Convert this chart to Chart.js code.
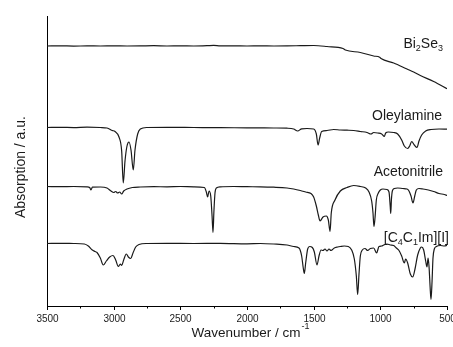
<!DOCTYPE html>
<html>
<head>
<meta charset="utf-8">
<script src="https://cdn.jsdelivr.net/npm/chart.js@4.4.1/dist/chart.umd.min.js"></script>
<style>
  html, body { margin: 0; padding: 0; background: #fff; }
  #wrap { width: 453px; height: 347px; }
</style>
</head>
<body>
<div id="wrap"><canvas id="ir" width="453" height="347"></canvas></div>
<script>
// axis ticks (wavenumber, cm-1)
const xTickLabels = [3500, 3000, 2500, 2000, 1500, 1000, 500];
// "_" marks the next character as a subscript
const seriesNames = ["Bi_2Se_3", "Oleylamine", "Acetonitrile", "[C_4C_1Im][I]"];

// Bi2Se3
const biWn  = [3500, 3400, 3300, 3200, 3100, 3000, 2900, 2800, 2700, 2600, 2500, 2400, 2300, 2250, 2200, 2100, 2000, 1900, 1800, 1700, 1600, 1500, 1400, 1280, 1262, 1150, 1050, 1005, 995, 900, 800, 750, 700, 600, 500];
const biAbs = [26.0, 26.02, 25.99, 26.01, 26.0, 26.02, 26.0, 26.01, 26.03, 26.0, 26.02, 26.0, 26.03, 26.06, 26.01, 26.02, 26.0, 26.02, 26.0, 26.01, 26.03, 26.05, 25.95, 25.75, 25.6, 25.35, 25.0, 24.88, 24.75, 24.3, 23.7, 23.4, 23.05, 22.45, 21.72];

// Oleylamine
const oleWn  = [3500, 3400, 3300, 3200, 3100, 3050, 3010, 2990, 2960, 2940, 2928, 2915, 2900, 2885, 2870, 2853, 2840, 2820, 2800, 2750, 2600, 2400, 2200, 2000, 1800, 1700, 1650, 1620, 1590, 1550, 1500, 1480, 1467, 1455, 1440, 1400, 1350, 1300, 1250, 1200, 1150, 1100, 1070, 1050, 1020, 990, 970, 960, 940, 900, 870, 840, 820, 795, 780, 765, 745, 725, 710, 690, 660, 620, 560, 500];
const oleAbs = [17.85, 17.87, 17.84, 17.88, 17.85, 17.8, 17.55, 17.45, 16.9, 15.5, 12.3, 14.5, 16.0, 16.4, 15.6, 13.6, 15.6, 17.2, 17.7, 17.85, 17.87, 17.85, 17.83, 17.82, 17.8, 17.78, 17.7, 17.5, 17.72, 17.75, 17.7, 17.2, 16.1, 16.8, 17.45, 17.55, 17.65, 17.6, 17.58, 17.55, 17.45, 17.35, 17.2, 17.35, 17.3, 17.2, 16.95, 17.3, 17.4, 17.35, 17.2, 16.6, 16.0, 15.75, 16.0, 16.45, 16.1, 15.85, 16.5, 17.1, 17.5, 17.65, 17.7, 17.68];

// Acetonitrile
const acnWn  = [3500, 3400, 3300, 3200, 3180, 3170, 3160, 3100, 3050, 3020, 3000, 2985, 2970, 2955, 2940, 2925, 2900, 2860, 2800, 2700, 2600, 2500, 2400, 2320, 2305, 2295, 2285, 2272, 2262, 2255, 2248, 2240, 2230, 2200, 2100, 2000, 1900, 1800, 1700, 1650, 1600, 1560, 1520, 1500, 1480, 1465, 1452, 1430, 1405, 1390, 1377, 1368, 1340, 1300, 1250, 1200, 1150, 1110, 1085, 1065, 1055, 1048, 1040, 1030, 1015, 1000, 980, 950, 935, 926, 922, 917, 910, 895, 870, 830, 800, 785, 770, 755, 742, 730, 710, 680, 640, 600, 560, 520, 500];
const acnAbs = [11.95, 11.93, 11.95, 11.92, 11.85, 11.6, 11.88, 11.9, 11.8, 11.5, 11.35, 11.45, 11.3, 11.4, 11.2, 11.5, 11.7, 11.85, 11.9, 11.93, 11.92, 11.95, 11.92, 11.85, 11.4, 10.9, 11.5, 11.0, 9.0, 7.35, 9.5, 11.3, 11.8, 11.92, 11.95, 11.93, 11.92, 11.88, 11.8, 11.7, 11.55, 11.4, 11.25, 10.9, 10.0, 9.1, 8.5, 8.9, 9.0, 8.6, 7.45, 9.3, 10.6, 11.5, 11.85, 12.05, 11.95, 11.8, 11.4, 10.5, 9.3, 7.95, 8.8, 10.6, 11.3, 11.6, 11.7, 11.65, 11.4, 10.0, 9.25, 10.6, 11.5, 11.75, 11.8, 11.75, 11.7, 11.5, 11.0, 10.3, 11.0, 11.6, 11.75, 11.7, 11.6, 11.45, 11.25, 11.15, 11.05];

// [C4C1Im][I]
const ilWn  = [3500, 3400, 3300, 3220, 3190, 3160, 3140, 3125, 3100, 3078, 3055, 3030, 3005, 2985, 2965, 2950, 2940, 2925, 2905, 2890, 2872, 2855, 2835, 2810, 2750, 2600, 2400, 2200, 2000, 1900, 1800, 1700, 1650, 1610, 1590, 1578, 1570, 1560, 1545, 1530, 1510, 1495, 1475, 1460, 1445, 1430, 1415, 1400, 1385, 1370, 1345, 1320, 1300, 1270, 1240, 1215, 1195, 1180, 1170, 1160, 1150, 1135, 1115, 1095, 1075, 1050, 1028, 1010, 990, 975, 950, 925, 900, 880, 860, 840, 820, 810, 795, 775, 757, 740, 720, 700, 690, 675, 660, 650, 642, 635, 625, 620, 612, 605, 595, 580, 550, 520, 500];
const ilAbs = [6.25, 6.27, 6.25, 6.2, 6.0, 5.6, 5.45, 5.35, 4.8, 4.1, 4.5, 4.9, 5.05, 4.6, 3.95, 4.2, 4.05, 4.6, 5.2, 4.9, 4.75, 5.3, 5.9, 6.15, 6.25, 6.27, 6.25, 6.27, 6.22, 6.25, 6.2, 6.1, 5.95, 5.8, 5.0, 3.8, 3.25, 4.3, 5.7, 5.95, 5.85, 5.4, 4.1, 5.0, 5.6, 5.55, 5.7, 5.5, 5.7, 5.55, 5.8, 5.9, 5.95, 6.0, 5.95, 5.6, 4.7, 3.0, 1.15, 3.2, 5.0, 5.6, 5.75, 5.55, 5.75, 5.8, 5.3, 5.95, 6.0, 6.1, 6.2, 6.1, 6.05, 5.8, 5.55, 5.0, 4.3, 4.7, 4.3, 3.2, 2.9, 3.7, 5.1, 5.8, 5.9, 5.6, 4.5, 3.9, 4.8, 4.0, 1.5, 0.65, 2.5, 4.8, 5.7, 5.95, 6.05, 6.0, 6.05];

const toPoints = (wn, ab) => wn.map((w, i) => ({ x: w, y: ab[i] }));

const FONT = "'Liberation Sans', Arial, sans-serif";
const INK = '#1a1a1a';

// where each series name sits (right edge wavenumber, a.u.)
const labelSpots = [[530, 26.3], [537, 19.1], [530, 13.5], [485, 6.9]];

function drawRich(ctx, text, right, midY) {
    const parts = [];
    for (let i = 0; i < text.length; i++) {
        if (text[i] === '_') { parts.push({ t: text[i + 1], sub: true }); i++; }
        else if (parts.length && !parts[parts.length - 1].sub) parts[parts.length - 1].t += text[i];
        else parts.push({ t: text[i], sub: false });
    }
    let w = 0;
    parts.forEach(p => { ctx.font = (p.sub ? '9px ' : '14px ') + FONT; p.w = ctx.measureText(p.t).width; w += p.w; });
    let x = right - w;
    ctx.textAlign = 'left';
    ctx.textBaseline = 'alphabetic';
    parts.forEach(p => {
        ctx.font = (p.sub ? '9px ' : '14px ') + FONT;
        ctx.fillText(p.t, x, midY + 5 + (p.sub ? 3 : 0));
        x += p.w;
    });
}

const annotate = {
    id: 'annotate',
    afterDraw(chart) {
        const { ctx, chartArea: a, scales: { x, y } } = chart;
        ctx.save();
        ctx.strokeStyle = '#000';
        ctx.fillStyle = INK;
        ctx.lineWidth = 1;

        // tick marks + labels
        ctx.font = '10px ' + FONT;
        ctx.textAlign = 'center';
        ctx.textBaseline = 'alphabetic';
        xTickLabels.forEach((t, i) => {
            const px = Math.round(x.getPixelForValue(t)) + 0.5;
            ctx.beginPath(); ctx.moveTo(px, a.bottom); ctx.lineTo(px, a.bottom + 4); ctx.stroke();
            if (i < xTickLabels.length - 1) {
                const mx = Math.round(x.getPixelForValue((t + xTickLabels[i + 1]) / 2)) + 0.5;
                ctx.beginPath(); ctx.moveTo(mx, a.bottom); ctx.lineTo(mx, a.bottom + 2.5); ctx.stroke();
            }
            ctx.fillText(String(t), px, 322);
        });

        // x title with superscript
        ctx.font = '13.5px ' + FONT;
        const main = 'Wavenumber / cm';
        ctx.font = '9px ' + FONT;
        const supW = ctx.measureText('-1').width;
        ctx.font = '13.5px ' + FONT;
        const mainW = ctx.measureText(main).width;
        const sx = (a.left + a.right) / 2 + 3 - (mainW + supW) / 2;
        ctx.textAlign = 'left';
        ctx.fillText(main, sx, 337);
        ctx.font = '9px ' + FONT;
        ctx.fillText('-1', sx + mainW + 1, 329);

        // y title
        ctx.save();
        ctx.translate(25, 167);
        ctx.rotate(-Math.PI / 2);
        ctx.font = '14px ' + FONT;
        ctx.textAlign = 'center';
        ctx.fillText('Absorption / a.u.', 0, 0);
        ctx.restore();

        // series names
        seriesNames.forEach((n, i) => {
            const [lw, la] = labelSpots[i];
            drawRich(ctx, n, x.getPixelForValue(lw), y.getPixelForValue(la));
        });
        ctx.restore();
    }
};

const lineStyle = { borderColor: INK, borderWidth: 1.2, pointRadius: 0, fill: false, cubicInterpolationMode: 'monotone' };

new Chart(document.getElementById('ir'), {
    type: 'line',
    data: {
        datasets: [
            { label: seriesNames[0], data: toPoints(biWn, biAbs), ...lineStyle },
            { label: seriesNames[1], data: toPoints(oleWn, oleAbs), ...lineStyle },
            { label: seriesNames[2], data: toPoints(acnWn, acnAbs), ...lineStyle },
            { label: seriesNames[3], data: toPoints(ilWn, ilAbs), ...lineStyle }
        ]
    },
    options: {
        responsive: false,
        animation: false,
        devicePixelRatio: 1,
        layout: { padding: { left: 0, top: 16, right: 6, bottom: 0 } },
        plugins: { legend: { display: false }, tooltip: { enabled: false } },
        scales: {
            x: {
                type: 'linear', reverse: true, min: 500, max: 3500,
                grid: { display: false },
                border: { display: true, color: '#000', width: 1 },
                ticks: { display: false, stepSize: 500 },
                afterFit: s => { s.height = 41; }
            },
            y: {
                min: 0, max: 29,
                grid: { display: false },
                border: { display: true, color: '#000', width: 1 },
                ticks: { display: false },
                afterFit: s => { s.width = 47; }
            }
        }
    },
    plugins: [annotate]
});
</script>
</body>
</html>
